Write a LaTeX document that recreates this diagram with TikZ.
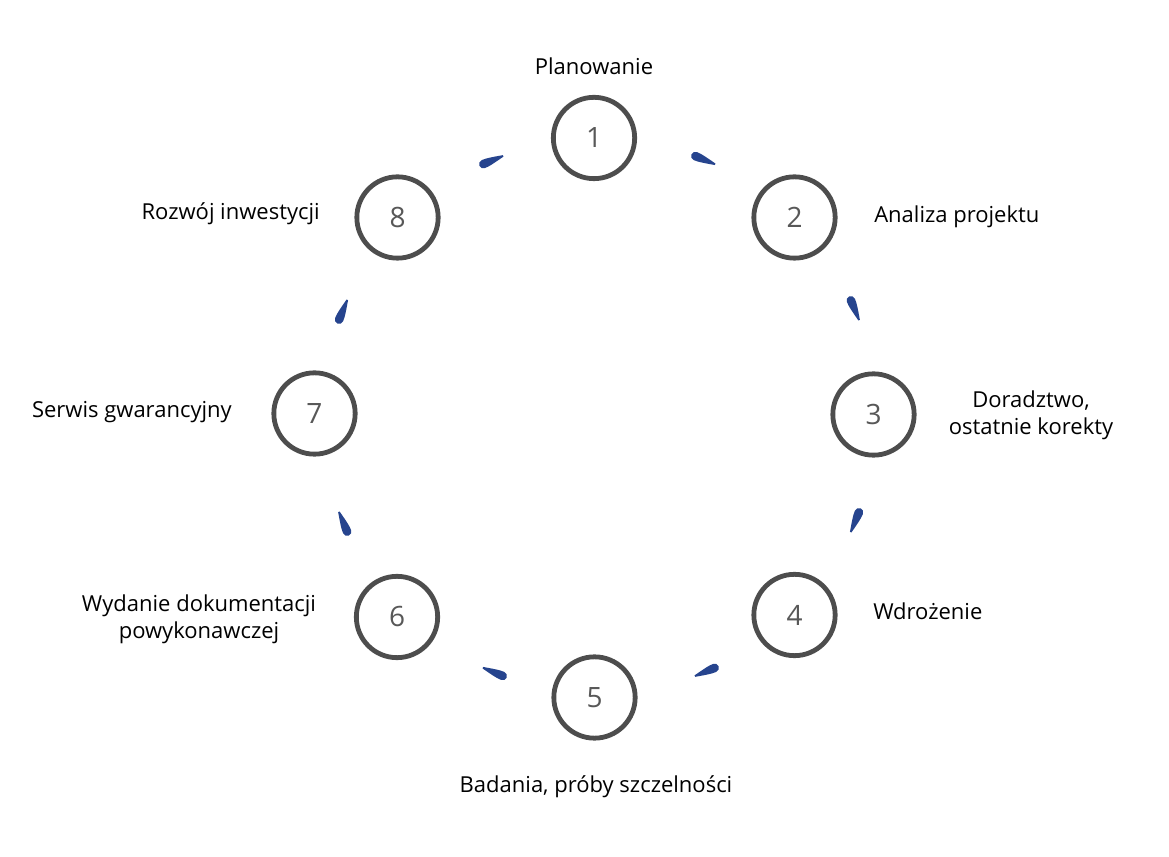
\documentclass[tikz,border=0pt]{standalone}
\usepackage{fontspec}
\setmainfont{Open Sans}
\usetikzlibrary{calc,positioning}
\definecolor{ringgray}{RGB}{77,77,77}
\definecolor{numgray}{RGB}{88,88,88}
\definecolor{dropblue}{RGB}{38,68,142}
\tikzset{
  stage/.style={circle, draw=ringgray, line width=3.6pt, minimum size=61pt,
    inner sep=0pt, text=numgray, font=\fontsize{21}{25}\selectfont},
  caption/.style={font=\fontsize{16.5}{20}\selectfont, align=center, inner sep=0pt},
  drop/.style={fill=dropblue}
}

\begin{document}
\begin{tikzpicture}[x=0.75pt,y=0.75pt]
    \useasboundingbox (0,0) rectangle (1169,856);
	% stages
	\node [stage] (n1) at (594,718) {1};
	\node [stage] (n2) at (794.5,638.5) {2};
	\node [stage] (n3) at (873.5,441.5) {3};
	\node [stage] (n4) at (794.5,241) {4};
	\node [stage] (n5) at (594.5,158.5) {5};
	\node [stage] (n6) at (397,239) {6};
	\node [stage] (n7) at (314.5,442.5) {7};
	\node [stage] (n8) at (397.5,638.5) {8};
	% captions
	\node [caption, anchor=base] (l1) at (594,781.5) {Planowanie};
	\node [caption, anchor=base west] (l2) at (874,633.5) {Analiza projektu};
	\node [caption] (l3) at (1031,441) {Doradztwo,\\ostatnie korekty};
	\node [caption, anchor=base west] (l4) at (873,236.5) {Wdrożenie};
	\node [caption, anchor=base] (l5) at (596,63.5) {Badania, próby szczelności};
	\node [caption] (l6) at (199,237) {Wydanie dokumentacji\\powykonawczej};
	\node [caption, anchor=base east] (l7) at (232,438.5) {Serwis gwarancyjny};
	\node [caption, anchor=base east] (l8) at (320,636.5) {Rozwój inwestycji};
	% drops
	\coordinate (ring) at (599,440);
	\foreach \a in {67.5,22.5,-22.5,-67.5,-112.5,-157.5,157.5,112.5}
		\fill [drop, shift={($(ring)+(\a:277)$)}, rotate=\a-90]
			(11,0.8) .. controls (3,2.5) and (-6,4.6) .. (-10.5,4.3)
			arc [start angle=90, end angle=270, radius=4.3]
			.. controls (-6,-4.6) and (3,-2.5) .. (11,-0.8) -- cycle;
\end{tikzpicture}
\end{document}
